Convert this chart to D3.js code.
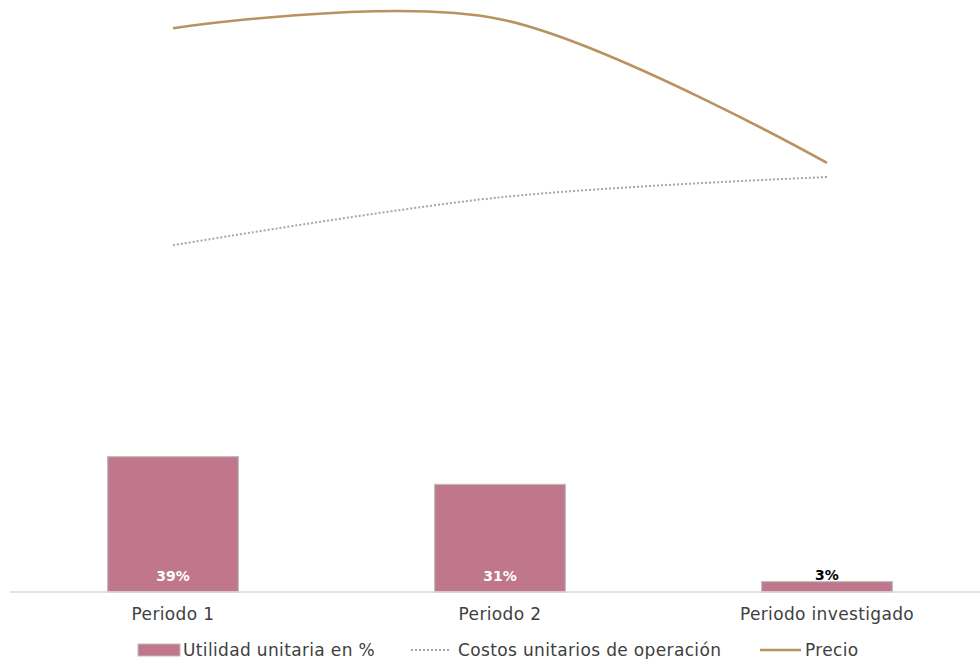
<!DOCTYPE html>
<html><head><meta charset="utf-8">
<script src="https://cdn.jsdelivr.net/npm/d3@7"></script>
<style>body{margin:0;background:#fff;} svg text{font-family:"DejaVu Sans",sans-serif;}</style>
</head><body>
<svg id="chart" width="980" height="659"></svg>
<script>
const categories = ["Periodo 1", "Periodo 2", "Periodo investigado"];
const utilidad = [39, 31, 3];
const costos = [61.5, 70.0, 73.6];
const precio = [100, 101.6, 76.1];
const seriesNames = ["Utilidad unitaria en %", "Costos unitarios de operación", "Precio"];

const svg = d3.select("#chart");
const baseY = 592;
const x = d3.scaleBand().domain(categories).range([9.5, 990.5]).paddingInner(0.6).paddingOuter(0.3);
const yBar = d3.scaleLinear().domain([0, 170]).range([baseY, 2]);
const yLine = d3.scaleLinear().domain([0, 105]).range([baseY, 0]);

// bars
svg.selectAll("rect.bar").data(utilidad).join("rect")
  .attr("class","bar")
  .attr("x",(d,i)=>x(categories[i]))
  .attr("y",d=>yBar(d))
  .attr("width",x.bandwidth())
  .attr("height",d=>baseY-yBar(d))
  .attr("fill","#c0768b").attr("stroke","#bdbdbd").attr("stroke-width",1.2);

// axis line
svg.append("line").attr("x1",10).attr("x2",980).attr("y1",baseY).attr("y2",baseY)
  .attr("stroke","#d9d9d9").attr("stroke-width",1.3);

// bar labels
svg.selectAll("text.blab").data(utilidad).join("text")
  .attr("class","blab")
  .attr("x",(d,i)=>x(categories[i])+x.bandwidth()/2)
  .attr("y",(d)=> d>10 ? baseY-11 : yBar(d)-2)
  .attr("text-anchor","middle")
  .attr("font-size",14).attr("font-weight","bold")
  .attr("fill",d=>d>10?"#ffffff":"#000000")
  .text(d=>d+"%");

// lines
const cx = (d,i)=>x(categories[i])+x.bandwidth()/2;
const lineC = d3.line().x(cx).y(d=>yLine(d)).curve(d3.curveCardinal.tension(0));
svg.append("path").attr("d",lineC(costos)).attr("fill","none")
  .attr("stroke","#a6a6a6").attr("stroke-width",2).attr("stroke-dasharray","2,2");
svg.append("path").attr("d",lineC(precio)).attr("fill","none")
  .attr("stroke","#b8925f").attr("stroke-width",2.6);

// x labels
svg.selectAll("text.xlab").data(categories).join("text")
  .attr("class","xlab")
  .attr("x",d=>x(d)+x.bandwidth()/2).attr("y",620)
  .attr("text-anchor","middle").attr("font-size",17).attr("letter-spacing","0.35px").attr("fill","#404040")
  .text(d=>d);

// legend
const lg = svg.append("g");
lg.append("rect").attr("x",138).attr("y",644).attr("width",42).attr("height",12).attr("fill","#c0768b").attr("stroke","#bdbdbd");
lg.append("line").attr("x1",411).attr("x2",451).attr("y1",650).attr("y2",650).attr("stroke","#a6a6a6").attr("stroke-width",2).attr("stroke-dasharray","2,2");
lg.append("line").attr("x1",760).attr("x2",801).attr("y1",650).attr("y2",650).attr("stroke","#b8925f").attr("stroke-width",2.6);
const lgX = [183, 458, 805];
lg.selectAll("text").data(seriesNames).join("text")
  .attr("x",(d,i)=>lgX[i]).attr("y",656)
  .attr("font-size",17).attr("letter-spacing","0.35px").attr("fill","#404040").text(d=>d);
</script>
</body></html>
